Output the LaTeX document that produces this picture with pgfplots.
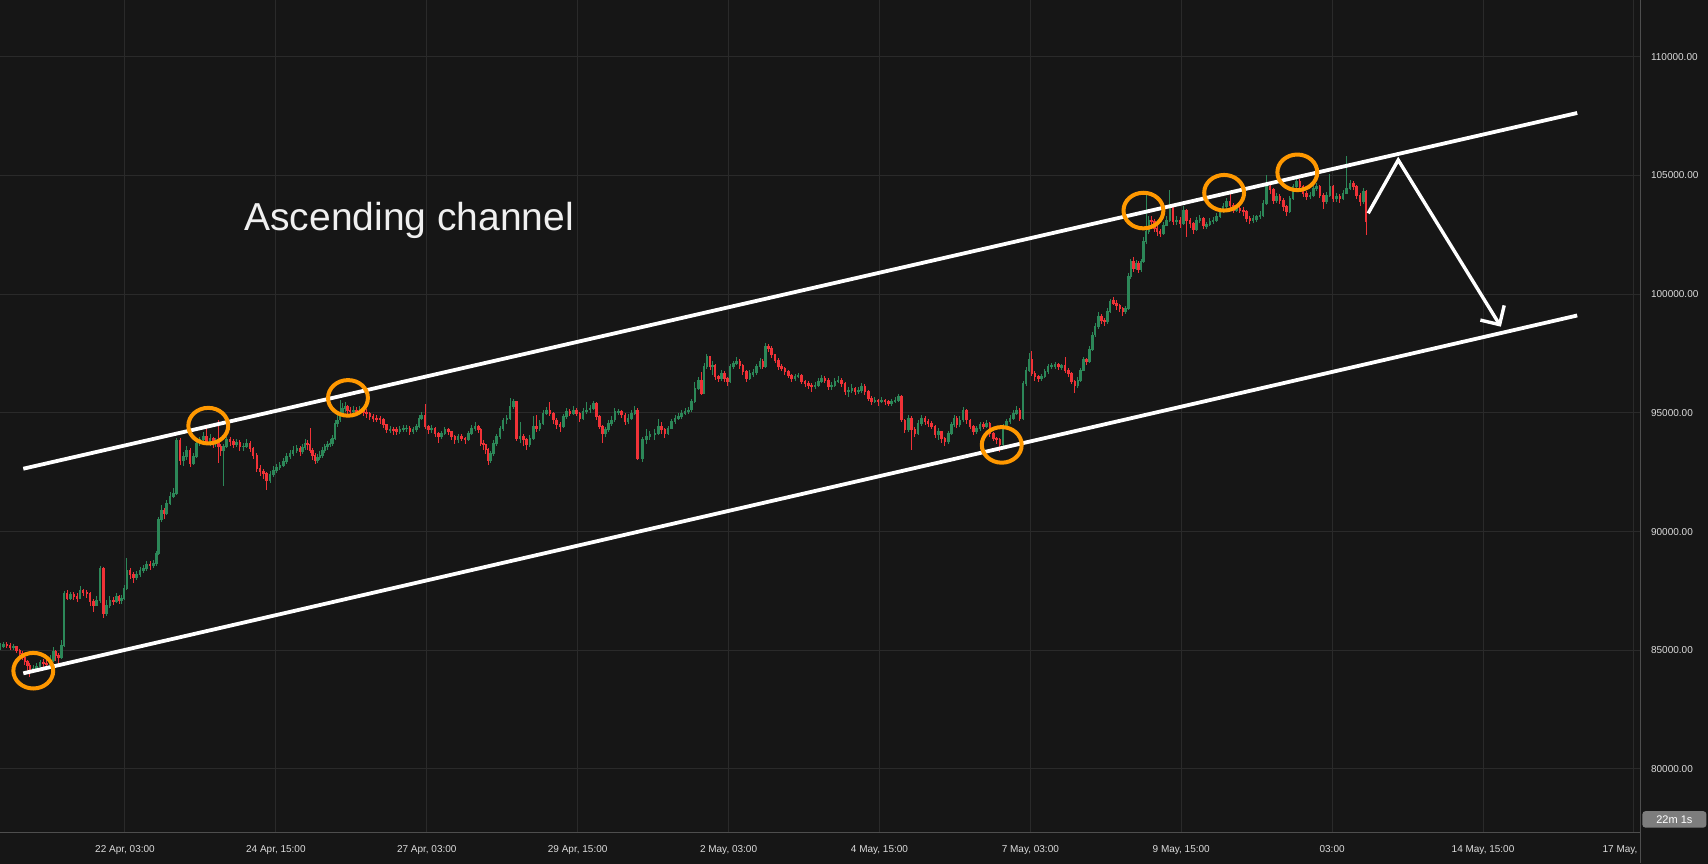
\documentclass[border=0pt]{standalone}
\usepackage{fontspec}
\setmainfont{Liberation Sans}
\usepackage{pgfplots}
\pgfplotsset{compat=1.18}
\usepackage{pgfplotstable}
\usetikzlibrary{arrows.meta}
\definecolor{bgc}{RGB}{22,22,22}
\definecolor{gridc}{RGB}{42,42,42}
\definecolor{sepc}{RGB}{78,78,78}
\definecolor{tickc}{RGB}{220,220,220}
\definecolor{cup}{RGB}{44,135,88}
\definecolor{cdn}{RGB}{240,50,55}
\definecolor{corange}{RGB}{255,152,0}
\definecolor{boxc}{RGB}{125,125,125}

\pgfplotstableread{
x o c h l
-49.7 85.10 85.15 85.30 85.00
-48.4 85.15 85.25 85.35 85.10
-47.0 85.25 85.22 85.35 85.10
-45.7 85.22 85.10 85.30 85.00
-44.4 85.10 85.15 85.25 85.00
-43.1 85.15 85.00 85.20 84.90
-41.8 85.00 84.87 85.05 84.75
-40.8 84.87 84.70 84.95 84.60
-39.8 84.70 84.52 84.75 84.40
-38.8 84.52 84.35 84.60 84.10
-37.8 84.35 84.17 84.45 83.89
-36.5 84.17 84.25 84.40 84.05
-35.1 84.25 84.31 84.45 84.15
-33.8 84.31 84.50 84.60 84.20
-32.5 84.50 84.45 84.65 84.30
-31.2 84.45 84.40 84.70 84.35
-29.8 84.40 84.59 84.80 84.35
-28.5 84.59 84.95 85.15 84.50
-27.5 84.95 84.80 85.00 84.55
-26.5 84.80 84.70 84.90 84.40
-25.3 84.70 85.20 85.45 84.65
-24.2 85.20 87.40 87.50 85.15
-23.0 87.40 87.20 87.55 87.10
-21.6 87.20 87.35 87.45 87.10
-20.3 87.35 87.25 87.45 87.10
-19.0 87.25 87.20 87.40 87.05
-17.9 87.20 87.54 87.70 87.15
-16.6 87.54 87.45 87.60 87.30
-15.2 87.45 87.40 87.55 87.20
-13.9 87.40 87.05 87.45 86.85
-12.6 87.05 86.90 87.15 86.60
-11.3 86.90 87.10 87.30 86.85
-9.9 87.10 88.45 88.55 87.00
-8.6 88.45 86.55 88.50 86.35
-7.3 86.55 86.90 87.10 86.45
-6.0 86.90 87.10 87.30 86.80
-4.6 87.10 87.05 87.25 86.90
-3.3 87.05 87.26 87.40 87.00
-2.3 87.26 87.10 87.35 86.95
-1.3 87.10 87.19 87.35 86.95
-0.3 87.19 87.60 87.75 87.10
0.7 87.60 88.38 88.87 87.55
2.0 88.38 88.20 88.45 88.00
3.3 88.20 88.05 88.30 87.85
4.6 88.05 88.20 88.35 87.95
6.0 88.20 88.38 88.50 88.10
7.3 88.38 88.45 88.60 88.25
8.6 88.45 88.60 88.75 88.35
10.0 88.60 88.55 88.75 88.40
11.3 88.55 88.66 88.80 88.45
12.5 88.66 89.08 89.20 88.55
13.4 89.08 90.50 90.60 89.00
14.6 90.50 90.90 91.10 90.40
15.6 90.90 90.75 91.00 90.55
16.6 90.75 91.20 91.35 90.70
17.9 91.20 91.47 91.65 91.10
19.2 91.47 91.60 91.82 91.40
20.5 91.60 93.85 93.95 91.55
21.9 93.85 93.00 93.95 92.80
23.2 93.00 93.15 93.35 92.75
24.5 93.15 93.43 93.60 93.00
25.9 93.43 92.87 93.50 92.70
27.2 92.87 93.15 93.30 92.80
28.5 93.15 93.70 93.85 93.10
29.8 93.70 93.86 94.00 93.60
31.2 93.86 94.00 94.20 93.80
32.5 94.00 93.79 94.40 93.65
33.8 93.79 93.90 94.10 93.60
35.1 93.90 93.72 94.00 93.50
36.1 93.72 93.80 93.95 93.55
37.1 93.80 93.57 94.70 92.87
38.1 93.57 93.40 93.70 93.20
39.1 93.40 93.57 93.70 91.90
40.4 93.57 93.86 94.00 93.50
41.8 93.86 93.80 94.00 93.60
43.1 93.80 93.65 93.90 93.50
44.4 93.65 93.75 93.90 93.55
45.7 93.75 93.57 93.85 93.40
47.1 93.57 93.60 93.75 93.40
48.4 93.60 93.72 93.90 93.50
49.7 93.72 93.50 93.80 93.35
51.0 93.50 93.22 93.55 93.05
52.4 93.22 92.66 93.30 92.50
53.7 92.66 92.55 92.80 92.35
55.0 92.55 92.45 92.65 92.20
56.3 92.45 92.17 92.50 91.75
57.7 92.17 92.40 92.55 92.05
59.0 92.40 92.59 92.75 92.30
60.3 92.59 92.70 92.85 92.45
61.6 92.70 92.80 92.95 92.60
63.0 92.80 92.95 93.10 92.70
64.3 92.95 93.15 93.30 92.85
65.6 93.15 93.30 93.45 93.05
66.9 93.30 93.43 93.60 93.20
68.3 93.43 93.50 93.65 93.30
69.6 93.50 93.36 93.60 93.20
70.6 93.36 93.55 93.70 93.25
71.6 93.55 93.72 93.90 93.45
72.6 93.72 93.65 93.85 93.45
73.6 93.65 93.43 94.35 93.30
74.6 93.43 93.20 93.50 93.00
75.6 93.20 93.00 93.30 92.85
76.6 93.00 93.10 93.25 92.90
77.5 93.10 93.22 93.40 93.00
78.5 93.22 93.40 93.55 93.10
79.5 93.40 93.57 93.70 93.30
80.5 93.57 93.65 93.80 93.45
81.5 93.65 93.72 93.90 93.55
82.5 93.72 93.90 94.05 93.60
83.5 93.90 94.56 94.70 93.85
84.5 94.56 94.70 95.00 94.40
85.5 94.70 94.98 95.54 94.60
86.5 94.98 95.20 95.40 94.85
87.5 95.20 95.26 95.45 95.05
88.5 95.26 95.10 95.35 94.95
89.5 95.10 95.05 95.25 94.90
90.8 95.05 95.12 95.30 94.95
92.1 95.12 95.05 95.25 94.90
93.4 95.05 95.12 95.30 94.95
94.8 95.12 95.00 95.20 94.85
96.1 95.00 94.98 95.15 94.80
97.4 94.98 94.85 95.05 94.70
98.7 94.85 94.77 94.95 94.60
100.1 94.77 94.75 94.90 94.60
101.4 94.75 94.70 94.85 94.55
102.7 94.70 94.50 94.80 94.35
104.0 94.50 94.28 94.55 94.15
105.4 94.28 94.30 94.45 94.15
106.7 94.30 94.28 94.40 94.05
108.0 94.28 94.20 94.40 94.05
109.3 94.20 94.28 94.45 94.10
110.7 94.28 94.35 94.50 94.20
112.0 94.35 94.36 94.50 94.20
113.3 94.36 94.20 94.45 94.05
114.6 94.20 94.28 94.40 94.10
116.0 94.28 94.42 94.55 94.20
116.9 94.42 94.77 94.90 94.35
118.0 94.77 94.91 95.05 94.70
119.3 94.91 94.42 95.37 94.30
120.6 94.42 94.28 94.50 94.10
121.9 94.28 94.35 94.50 94.15
123.3 94.35 94.14 94.40 94.00
124.6 94.14 93.99 94.20 93.75
125.9 93.99 94.14 94.25 93.90
127.2 94.14 94.28 94.40 94.05
128.6 94.28 94.20 94.35 94.05
129.9 94.20 93.99 94.25 93.85
131.2 93.99 93.86 94.05 93.70
132.5 93.86 93.99 94.10 93.75
133.9 93.99 93.93 94.10 93.80
135.2 93.93 93.86 94.00 93.70
136.5 93.86 94.14 94.25 93.80
137.8 94.14 94.35 94.50 94.05
139.2 94.35 94.42 94.60 94.25
140.5 94.42 94.28 94.50 94.15
141.5 94.28 93.72 94.35 93.60
142.5 93.72 93.65 93.85 93.45
143.5 93.65 93.44 93.70 93.25
144.4 93.44 93.01 93.50 92.80
145.4 93.01 93.30 93.40 92.90
146.5 93.30 93.72 93.85 93.20
147.8 93.72 93.99 94.10 93.60
149.1 93.99 94.35 94.45 93.90
150.4 94.35 94.70 94.80 94.25
151.8 94.70 94.77 94.90 94.55
153.1 94.77 95.26 95.61 94.70
154.4 95.26 95.47 95.60 95.15
155.7 95.47 93.93 95.50 93.80
157.1 93.93 93.99 94.60 93.75
158.4 93.99 93.86 94.10 93.60
159.7 93.86 93.65 93.95 93.43
161.0 93.65 93.93 94.05 93.55
162.4 93.93 94.42 94.85 93.85
163.7 94.42 94.35 94.90 94.20
165.0 94.35 94.56 94.70 94.25
166.3 94.56 94.98 95.10 94.50
167.7 94.98 95.12 95.25 94.90
168.9 95.12 94.98 95.47 94.85
170.3 94.98 94.70 95.05 94.55
171.6 94.70 94.49 94.80 94.30
173.0 94.49 94.42 94.60 94.20
174.3 94.42 94.84 94.95 94.35
175.6 94.84 95.05 95.20 94.75
176.9 95.05 94.98 95.15 94.85
178.3 94.98 95.12 95.30 94.90
179.6 95.12 94.98 95.20 94.85
180.9 94.98 94.77 95.05 94.60
182.2 94.77 95.05 95.20 94.70
183.6 95.05 95.12 95.47 94.95
184.9 95.12 95.19 95.35 95.00
186.2 95.19 95.40 95.50 95.10
187.5 95.40 94.84 95.45 94.70
188.7 94.84 94.42 94.90 94.30
189.9 94.42 94.14 94.50 93.72
191.1 94.14 94.28 94.40 94.00
192.3 94.28 94.56 94.70 94.20
193.5 94.56 94.70 94.85 94.45
194.8 94.70 95.05 95.20 94.60
196.2 95.05 95.06 95.15 94.90
197.5 95.06 94.91 95.10 94.80
198.8 94.91 94.63 95.00 94.50
200.1 94.63 94.77 94.95 94.55
201.5 94.77 94.98 95.10 94.70
202.7 94.98 95.12 95.30 94.90
203.8 95.12 93.08 95.20 93.00
205.8 93.08 93.86 94.00 92.94
207.4 93.86 93.99 94.30 93.70
208.7 93.99 94.07 94.25 93.85
210.7 94.07 94.14 94.30 93.85
212.1 94.14 94.42 94.73 94.05
213.4 94.42 94.30 94.60 94.10
214.7 94.30 94.14 94.35 93.95
216.0 94.14 94.35 94.45 94.05
217.4 94.35 94.63 94.75 94.30
218.7 94.63 94.77 94.90 94.55
220.0 94.77 94.84 95.00 94.70
221.3 94.84 94.98 95.10 94.75
222.7 94.98 95.05 95.20 94.90
224.0 95.05 95.12 95.25 94.95
225.3 95.12 95.47 95.60 95.05
226.6 95.47 96.03 96.30 95.40
228.0 96.03 96.38 96.50 95.95
229.2 96.38 95.82 96.73 95.75
230.3 95.82 96.94 97.10 95.80
231.4 96.94 97.37 97.48 96.85
232.6 97.37 96.94 97.40 96.80
233.7 96.94 97.00 97.20 96.60
234.7 97.00 96.52 97.05 96.40
235.9 96.52 96.45 96.60 96.30
237.2 96.45 96.66 96.80 96.35
238.4 96.66 96.45 96.75 96.30
239.5 96.45 96.31 96.50 96.15
240.6 96.31 96.94 97.05 96.25
241.9 96.94 97.08 97.20 96.85
243.2 97.08 97.15 97.35 97.00
244.5 97.15 97.00 97.25 96.85
245.7 97.00 96.73 97.05 96.60
247.2 96.73 96.45 96.80 96.30
248.5 96.45 96.66 96.80 96.40
249.8 96.60 96.70 96.85 96.50
251.2 96.70 96.94 97.05 96.60
252.5 96.94 97.15 97.30 96.85
253.6 97.15 96.94 97.25 96.85
254.7 96.94 97.79 97.93 96.90
255.8 97.79 97.72 97.90 97.55
257.1 97.72 97.44 97.80 97.30
258.5 97.44 97.22 97.50 97.10
259.8 97.22 96.94 97.30 96.80
261.1 96.94 96.87 97.05 96.75
262.4 96.87 96.73 96.95 96.60
263.8 96.73 96.59 96.80 96.45
265.1 96.59 96.45 96.65 96.30
266.4 96.45 96.52 96.65 96.35
267.7 96.52 96.59 96.70 96.45
269.1 96.59 96.31 96.65 96.20
270.4 96.31 96.24 96.40 96.10
271.7 96.24 96.17 96.35 96.00
273.0 96.17 96.10 96.25 95.90
274.4 96.10 96.17 96.30 96.00
275.7 96.17 96.31 96.45 96.10
277.0 96.31 96.45 96.60 96.25
278.3 96.45 96.38 96.55 96.25
279.7 96.38 96.10 96.45 95.95
281.0 96.10 96.17 96.30 95.95
282.3 96.17 96.31 96.45 96.10
283.6 96.31 96.38 96.55 96.25
285.0 96.38 96.24 96.45 96.10
286.3 96.24 95.89 96.30 95.75
287.6 95.89 95.96 96.10 95.65
289.0 95.96 96.03 96.20 95.85
290.3 96.03 95.89 96.10 95.75
291.6 95.89 95.96 96.10 95.80
292.9 95.96 96.10 96.25 95.85
294.2 96.10 95.89 96.20 95.75
295.6 95.89 95.61 95.95 95.50
296.9 95.61 95.47 95.70 95.35
298.2 95.47 95.54 95.65 95.40
299.5 95.54 95.47 95.60 95.30
300.9 95.47 95.54 95.65 95.40
302.2 95.54 95.47 95.60 95.35
303.5 95.47 95.40 95.55 95.30
304.8 95.40 95.47 95.60 95.30
306.2 95.47 95.54 95.65 95.40
307.5 95.54 95.68 95.80 95.45
308.8 95.68 94.70 95.75 94.60
310.1 94.70 94.28 94.75 94.15
311.5 94.28 94.77 94.90 94.20
312.8 94.77 94.28 94.85 93.43
314.1 94.28 94.14 94.40 94.00
315.4 94.14 94.56 94.70 94.05
316.8 94.56 94.77 94.90 94.45
318.1 94.77 94.63 94.85 94.50
319.4 94.63 94.56 94.75 94.40
320.7 94.56 94.42 94.65 94.30
322.1 94.42 94.07 94.50 93.95
323.4 94.07 94.20 94.35 93.85
324.7 94.20 93.93 94.25 93.75
326.0 93.93 93.79 94.00 93.60
327.4 93.79 94.14 94.25 93.70
328.6 94.14 94.49 94.60 94.05
329.7 94.49 94.77 94.90 94.40
330.8 94.77 94.49 94.85 94.35
332.0 94.49 94.70 94.85 94.40
333.3 94.70 95.12 95.25 94.60
334.7 95.12 94.70 95.15 94.55
336.0 94.70 94.42 94.75 94.30
337.3 94.42 94.20 94.50 94.05
338.6 94.20 94.35 94.45 94.10
340.0 94.35 94.49 94.60 94.25
341.3 94.49 94.42 94.60 94.30
342.6 94.42 94.56 94.70 94.35
343.9 94.56 94.14 94.60 94.00
345.3 94.14 93.93 94.20 93.80
346.6 93.93 93.86 94.00 93.70
347.9 93.86 93.65 93.95 93.36
349.2 93.65 94.42 94.55 93.60
350.6 94.42 94.63 94.75 94.35
351.9 94.63 94.77 94.90 94.55
353.2 94.77 94.98 95.10 94.70
354.5 94.98 95.12 95.30 94.90
355.8 95.12 94.77 95.20 94.65
357.1 94.77 96.24 96.35 94.70
358.3 96.24 96.80 96.95 96.15
359.5 96.80 97.23 97.50 96.70
360.6 97.23 96.66 97.60 96.55
361.8 96.66 96.52 96.75 96.35
363.2 96.52 96.45 96.60 96.30
364.5 96.45 96.52 96.65 96.35
365.8 96.52 96.73 96.85 96.45
367.1 96.73 96.94 97.05 96.65
368.5 96.94 97.00 97.10 96.85
369.8 96.95 97.05 97.15 96.85
371.1 97.05 96.94 97.10 96.80
372.4 96.90 96.98 97.05 96.80
373.8 96.98 96.80 97.37 96.70
375.1 96.80 96.66 96.90 96.50
376.4 96.66 96.31 96.70 96.20
377.7 96.31 96.17 96.40 95.82
378.9 96.17 96.38 96.50 96.05
380.0 96.38 96.80 96.90 96.30
381.1 96.80 97.23 97.35 96.75
382.4 97.23 97.16 97.30 97.00
383.6 97.16 97.65 97.80 97.10
384.7 97.65 98.28 98.40 97.60
385.8 98.28 98.63 98.80 98.20
387.0 98.63 99.05 99.25 98.55
388.3 99.05 98.91 99.15 98.75
389.5 98.91 98.84 99.00 98.65
390.6 98.84 99.26 99.40 98.75
391.7 99.26 99.68 99.80 99.20
393.0 99.75 99.60 99.90 99.55
394.3 99.60 99.54 99.75 99.35
395.6 99.54 99.40 99.60 99.25
396.8 99.40 99.26 99.45 99.10
397.9 99.26 99.40 99.50 99.15
399.0 99.40 100.74 100.90 99.35
400.0 100.74 101.37 101.50 100.65
401.0 101.37 101.09 101.55 100.95
402.0 101.09 101.30 101.45 101.00
403.0 101.30 101.02 101.40 100.90
404.0 101.02 101.37 101.50 100.95
405.0 101.37 102.21 102.40 101.30
406.0 102.21 102.63 104.24 102.10
407.1 102.63 103.12 103.30 102.55
408.2 103.12 103.05 103.30 102.90
409.3 103.05 102.77 103.15 102.60
410.4 102.77 102.63 102.90 102.45
411.6 102.63 102.56 102.75 102.40
412.9 102.56 102.91 103.05 102.50
414.2 102.91 103.12 103.30 102.85
415.5 103.12 103.68 104.38 103.05
416.8 103.68 103.05 103.75 102.90
418.2 103.05 103.12 103.30 102.90
419.5 103.12 102.98 103.25 102.80
420.8 102.98 103.54 103.70 102.90
422.1 103.54 103.12 103.60 102.42
423.5 103.12 102.98 103.20 102.80
424.8 102.98 102.70 103.05 102.55
426.1 102.70 103.12 103.25 102.65
427.4 103.12 103.19 103.35 103.00
428.8 103.19 102.91 103.25 102.75
430.1 102.85 102.95 103.05 102.75
431.4 102.95 103.05 103.20 102.85
432.7 103.05 103.12 103.25 102.95
434.1 103.12 103.26 103.40 103.05
435.4 103.26 103.47 103.60 103.20
436.7 103.47 103.68 103.85 103.40
438.0 103.68 103.89 104.05 103.60
439.4 103.89 103.75 104.20 103.60
440.7 103.75 103.54 103.85 103.40
442.0 103.54 103.61 103.75 103.45
443.3 103.61 103.54 103.70 103.40
444.7 103.54 103.47 103.65 103.30
446.0 103.47 103.19 103.55 103.05
447.3 103.19 103.12 103.30 102.95
448.6 103.12 103.19 103.35 103.00
450.0 103.15 103.25 103.35 103.05
451.3 103.25 103.33 103.50 103.15
452.6 103.33 103.82 103.95 103.25
453.9 103.82 104.53 105.02 103.75
455.3 104.53 104.39 104.65 104.20
456.6 104.39 103.96 104.45 103.80
457.9 103.96 104.10 104.25 103.85
459.2 104.10 103.96 104.20 103.80
460.6 103.96 103.68 104.05 103.50
461.9 103.68 103.47 103.75 103.30
463.2 103.47 104.03 104.15 103.40
464.5 104.03 104.53 104.65 103.95
465.9 104.53 104.74 104.90 104.45
467.2 104.74 104.53 104.85 104.40
468.5 104.53 104.25 104.60 104.10
469.8 104.25 104.10 104.35 103.95
471.2 104.10 104.17 104.30 104.00
472.5 104.17 104.46 104.60 104.10
473.8 104.46 104.53 104.70 104.35
475.1 104.53 104.17 104.60 104.05
476.5 104.17 103.89 104.25 103.60
477.8 103.89 104.17 104.30 103.80
479.1 104.17 104.53 105.07 104.10
480.4 104.53 104.03 104.60 103.90
481.8 104.03 104.10 104.25 103.90
483.1 104.10 104.03 104.20 103.85
484.4 104.03 104.25 104.40 103.95
485.8 104.25 104.46 105.82 104.20
487.1 104.46 104.67 104.80 104.40
488.4 104.67 104.53 104.75 104.40
489.7 104.53 104.17 104.60 104.00
491.1 104.17 103.89 104.25 103.70
492.4 103.89 104.32 104.45 103.80
493.5 104.32 103.05 104.40 102.49
}\candles

\begin{document}
\begin{tikzpicture}
\useasboundingbox (0pt,0pt) rectangle (854pt,431.5pt);
\fill[bgc] (-3pt,-3pt) rectangle (857pt,434.5pt);
\begin{axis}[
  at={(0pt,15.4pt)}, anchor=south west,
  width=820.35pt, height=416.1pt, scale only axis,
  xmin=-49.7, xmax=602.7, ymin=77.338, ymax=112.388,
  axis line style={draw=none},
  major tick length=0pt, tick style={draw=none},
  grid=major, grid style={draw=gridc, line width=0.5pt},
  xtick={0,60,120,180,240,300,360,420,480,540,600},
  xticklabels={{22 Apr, 03:00},{24 Apr, 15:00},{27 Apr, 03:00},{29 Apr, 15:00},{2 May, 03:00},{4 May, 15:00},{7 May, 03:00},{9 May, 15:00},{03:00},{14 May, 15:00},{17 May,\phantom{\ 03:00}}},
  ytick={80,85,90,95,100,105,110},
  yticklabels={80000.00,85000.00,90000.00,95000.00,100000.00,105000.00,110000.00},
  yticklabel pos=right,
  xticklabel style={font=\fontsize{5}{6}\selectfont, text=tickc, inner sep=0pt, anchor=base, yshift=-10pt},
  yticklabel style={font=\fontsize{5}{6}\selectfont, text=tickc, inner sep=0pt, anchor=west, xshift=5pt},
  clip=true,
]
% wicks
\addplot[draw=none, mark=none, forget plot,
  restrict expr to domain={\thisrow{c}-\thisrow{o}}{0:1000},
  error bars/.cd, y dir=both, y explicit, error mark=none,
  error bar style={draw=cup, line width=0.45pt}]
  table[x=x, y expr={(\thisrow{h}+\thisrow{l})/2}, y error expr={(\thisrow{h}-\thisrow{l})/2}] {\candles};
\addplot[draw=none, mark=none, forget plot,
  restrict expr to domain={\thisrow{c}-\thisrow{o}}{-1000:-0.00001},
  error bars/.cd, y dir=both, y explicit, error mark=none,
  error bar style={draw=cdn, line width=0.45pt}]
  table[x=x, y expr={(\thisrow{h}+\thisrow{l})/2}, y error expr={(\thisrow{h}-\thisrow{l})/2}] {\candles};
% bodies
\addplot[draw=none, mark=none, forget plot,
  restrict expr to domain={\thisrow{c}-\thisrow{o}}{0:1000},
  error bars/.cd, y dir=both, y explicit, error mark=none,
  error bar style={draw=cup, line width=1.25pt}]
  table[x=x, y expr={(\thisrow{o}+\thisrow{c})/2}, y error expr={abs(\thisrow{c}-\thisrow{o})/2+0.02}] {\candles};
\addplot[draw=none, mark=none, forget plot,
  restrict expr to domain={\thisrow{c}-\thisrow{o}}{-1000:-0.00001},
  error bars/.cd, y dir=both, y explicit, error mark=none,
  error bar style={draw=cdn, line width=1.25pt}]
  table[x=x, y expr={(\thisrow{o}+\thisrow{c})/2}, y error expr={abs(\thisrow{c}-\thisrow{o})/2+0.02}] {\candles};
% channel
\addplot[white, line width=1.9pt, mark=none] coordinates {(-40.44,92.647) (577.45,107.629)};
\addplot[white, line width=1.9pt, mark=none] coordinates {(-40.44,84.030) (577.45,99.100)};
% touches
\addplot[only marks, mark=o, mark size=8.9pt, mark options={xscale=1.12, draw=corange, line width=2pt}]
  coordinates {(-36.46,84.14) (33.12,94.46) (88.67,95.63) (348.63,93.65) (404.97,103.52) (437.06,104.27) (466.16,105.13)};
% projected path
\addplot[white, line width=1.7pt, mark=none, line join=miter, -{Straight Barb[length=7pt, width=14pt, line width=1.7pt]}]
  coordinates {(494.35,103.404) (506.28,105.649) (547.1,98.628)};
\node[anchor=base west, inner sep=0pt, text={rgb,255:red,240;green,240;blue,240}, font=\fontsize{19.5}{22}\selectfont] at (axis cs:47.3,102.67) {Ascending channel};
\end{axis}
\draw[sepc, line width=0.6pt] (820.35pt,0pt) -- (820.35pt,431.5pt);
\draw[sepc, line width=0.6pt] (0pt,15.4pt) -- (820.35pt,15.4pt);
\node[fill=boxc, rounded corners=1.5pt, inner sep=0pt, minimum width=32pt, minimum height=8.2pt, anchor=south west, text=white, font=\fontsize{5.5}{6}\selectfont] at (821pt,17.5pt) {22m 1s};
\end{tikzpicture}
\end{document}
